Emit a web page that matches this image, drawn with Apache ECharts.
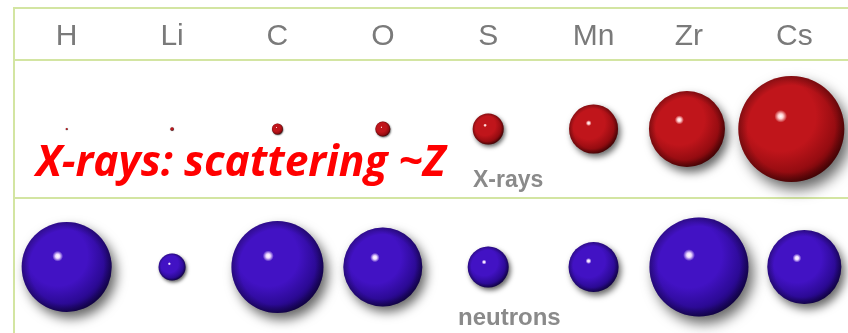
<!DOCTYPE html>
<html>
<head>
<meta charset="utf-8">
<script src="https://cdn.jsdelivr.net/npm/echarts@6/dist/echarts.min.js"></script>
<style>
  html, body { margin: 0; padding: 0; background: #ffffff; overflow: hidden; width: 848px; height: 333px; }
  /* The plot runs a little past the right and bottom edges of the page */
  #chart { width: 857px; height: 336px; }
</style>
</head>
<body>
<div id="chart"></div>
<script>
// Elements compared, in order of atomic number
const elements = ['H', 'Li', 'C', 'O', 'S', 'Mn', 'Zr', 'Cs'];
// The two probes, one row each
const probes = ['X-rays', 'neutrons'];
// Relative scattering strength, drawn as sphere diameter
const xrayStrength = [2, 3.5, 11, 15, 31, 49, 76, 106];
const neutronStrength = [90, 27, 92, 79, 41, 50, 99, 74];

// Horizontal nudge (px) for the largest X-ray spheres and their header labels
const xrayNudge = [0, 0, 0, 0, 0, 0, -12, -13];

const frameGreen = '#d3e5a2';

function sphereFill(light, body, mid, dark) {
  return {
    type: 'radial', x: 0.4, y: 0.38, r: 0.66,
    colorStops: [
      { offset: 0, color: '#ffffff' },
      { offset: 0.035, color: light },
      { offset: 0.09, color: body },
      { offset: 0.5, color: body },
      { offset: 0.8, color: mid },
      { offset: 1, color: dark }
    ]
  };
}

const rimFill = {
  type: 'radial', x: 0.5, y: 0.5, r: 0.5,
  colorStops: [
    { offset: 0, color: 'rgba(0,0,0,0)' },
    { offset: 0.82, color: 'rgba(0,0,0,0)' },
    { offset: 1, color: 'rgba(0,0,0,0.28)' }
  ]
};

function buildRow(values, probe, fill, nudge) {
  return values.map((v, i) => ({
    value: [elements[i], probe, v],
    symbolOffset: [nudge ? nudge[i] : 0, 0],
    itemStyle: {
      color: fill,
      opacity: 1,
      shadowColor: 'rgba(0,0,0,0.6)',
      shadowBlur: Math.max(1, v * 0.13),
      shadowOffsetX: v * 0.05,
      shadowOffsetY: v * 0.07
    }
  }));
}

function buildRim(values, probe, nudge) {
  return values.map((v, i) => ({
    value: [elements[i], probe, v],
    symbolOffset: [nudge ? nudge[i] : 0, 0]
  }));
}

const redFill = sphereFill('#ffd0d0', '#c0151b', '#960c11', '#560406');
const blueFill = sphereFill('#eedaff', '#4212c4', '#2c0a96', '#150357');

const chart = echarts.init(document.getElementById('chart'), null, { renderer: 'canvas' });

chart.setOption({
  animation: false,
  backgroundColor: '#ffffff',
  title: {
    text: 'X-rays: scattering ~Z',
    left: 31, top: 137,
    textStyle: {
      color: '#ff0000', fontSize: 42.5, fontStyle: 'italic', fontWeight: 'bold',
      fontFamily: 'Open Sans'
    }
  },
  grid: { left: 14, right: 0, top: 60, bottom: 0 },
  xAxis: {
    type: 'category',
    position: 'top',
    data: elements,
    boundaryGap: true,
    axisLine: { show: true, lineStyle: { color: frameGreen, width: 2 } },
    axisTick: { show: false },
    axisLabel: {
      interval: 0,
      margin: 8,
      fontSize: 30,
      color: '#7a7a7a',
      fontFamily: 'Liberation Sans',
      formatter: (v, i) => xrayNudge[i] ? '{n|' + v + '}' : v,
      rich: { n: { fontSize: 30, color: '#7a7a7a', fontFamily: 'Liberation Sans', padding: [0, 20, 0, 0] } }
    },
    splitLine: { show: false }
  },
  yAxis: {
    type: 'category',
    inverse: true,
    data: probes,
    boundaryGap: true,
    axisLine: { show: true, lineStyle: { color: frameGreen, width: 2 } },
    axisTick: { show: false },
    axisLabel: { show: false },
    splitLine: { show: true, lineStyle: { color: frameGreen, width: 2 } }
  },
  graphic: [
    {
      type: 'polyline', z: 5,
      shape: { points: [[14, 60], [14, 8], [857, 8]] },
      style: { stroke: frameGreen, lineWidth: 2, fill: null }
    },
    {
      type: 'text', left: 473, top: 169, z: 5,
      style: { text: probes[0], fill: '#8a8a8a', font: 'bold 23px "Liberation Sans"' }
    },
    {
      type: 'text', left: 458, top: 306, z: 5,
      style: { text: probes[1], fill: '#8a8a8a', font: 'bold 24px "Liberation Sans"' }
    }
  ],
  series: [
    {
      type: 'scatter', name: 'X-rays',
      symbolSize: d => d[2],
      data: buildRow(xrayStrength, probes[0], redFill, xrayNudge),
      z: 2
    },
    {
      type: 'scatter', name: 'X-rays rim', silent: true,
      symbolSize: d => d[2],
      itemStyle: { color: rimFill, opacity: 1 },
      data: buildRim(xrayStrength, probes[0], xrayNudge),
      z: 3
    },
    {
      type: 'scatter', name: 'neutrons',
      symbolSize: d => d[2],
      data: buildRow(neutronStrength, probes[1], blueFill, null),
      z: 2
    },
    {
      type: 'scatter', name: 'neutrons rim', silent: true,
      symbolSize: d => d[2],
      itemStyle: { color: rimFill, opacity: 1 },
      data: buildRim(neutronStrength, probes[1], null),
      z: 3
    }
  ]
});
</script>
</body>
</html>
